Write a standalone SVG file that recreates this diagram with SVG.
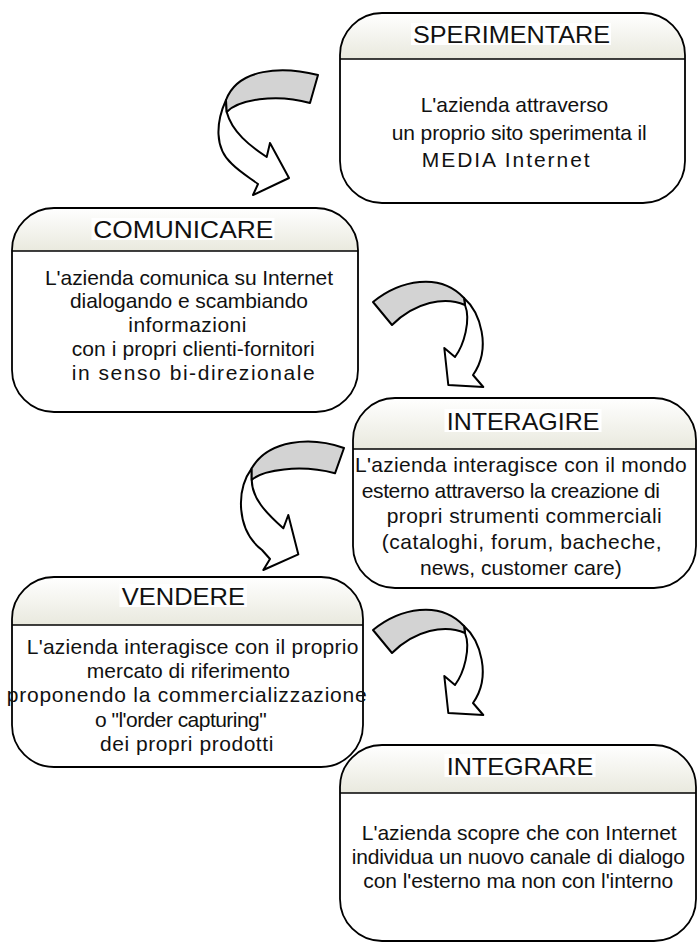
<svg xmlns="http://www.w3.org/2000/svg" width="697" height="943" viewBox="0 0 697 943">
<defs>
<linearGradient id="hg" x1="0" y1="0" x2="0" y2="1">
<stop offset="0" stop-color="#ffffff"/>
<stop offset="1" stop-color="#e9e9de"/>
</linearGradient>
<style>
.bg{fill:#ffffff;stroke:none}
.hd{fill:url(#hg);stroke:none}
.ol{fill:none;stroke:#000;stroke-width:1.8}
.dv{stroke:#000;stroke-width:1.6}
.tb{fill:#ffffff;stroke:none}
.h{font-family:"Liberation Sans",Arial,sans-serif;font-size:24px;fill:#111}
.t{font-family:"Liberation Sans",Arial,sans-serif;font-size:21px;fill:#111}
.ag{fill:#d3d3d3;stroke:#000;stroke-width:2;stroke-linejoin:round}
.aw{fill:#ffffff;stroke:#000;stroke-width:2;stroke-linejoin:round}
</style>
</defs>
<rect width="697" height="943" fill="#ffffff"/>

<g id="connectors">
<g id="arrow1">
<path class="aw" d="M226,100 C216,122 214,148 232,164 C240,172 250,178 258,184 L253,195 L289,178 L270,143 L266.7,157 C250,146 232,132 226.7,112 Z"/>
<path class="ag" d="M318,75 C282,66 238,68 226,100 L226.7,112 C238,100 275,93 310,103 Z"/>
</g>
<g id="arrow2">
<path class="aw" d="M464,298 C480,312 492,348 473,375 L483.3,387 L448.3,385 L444.3,348 L455,357 C464,345 471,320 465,305 Z"/>
<path class="ag" d="M373,302 C400,280 440,272 464,298 L465,305 C445,296 415,302 392,325 Z"/>
</g>
<g id="arrow3">
<path class="aw" d="M251.7,468.3 C236,490 236,530 262,550 L270,559 L263.3,570 L298.3,554.3 L288.3,515 L283.3,528.3 C265,512 252,498 251.7,480 Z"/>
<path class="ag" d="M344,448 C310,436 268,440 251.7,468.3 L251.7,480 C262,470 300,464 335,473.3 Z"/>
</g>
<g id="arrow4" transform="translate(0,328)">
<path class="aw" d="M464,298 C480,312 492,348 473,375 L483.3,387 L448.3,385 L444.3,348 L455,357 C464,345 471,320 465,305 Z"/>
<path class="ag" d="M373,302 C400,280 440,272 464,298 L465,305 C445,296 415,302 392,325 Z"/>
</g>
</g>

<g id="node-sperimentare">
<rect class="bg" x="340" y="13" width="345" height="190" rx="42"/>
<path class="hd" d="M340,59 V55 A42,42 0 0 1 382,13 H643 A42,42 0 0 1 685,55 V59 Z"/>
<line class="dv" x1="340" y1="59" x2="685" y2="59"/>
<rect class="ol" x="340" y="13" width="345" height="190" rx="42"/>
<rect class="tb" x="411" y="23" width="200" height="22"/>
<text class="h" x="413" y="43.3" textLength="197" lengthAdjust="spacingAndGlyphs">SPERIMENTARE</text>
<text class="t" x="420.7" y="111.7" textLength="187.6" lengthAdjust="spacing">L'azienda attraverso</text>
<text class="t" x="391.7" y="139.5" textLength="255" lengthAdjust="spacing">un proprio sito sperimenta il</text>
<text class="t" x="421.7" y="166.7" textLength="168" lengthAdjust="spacing">MEDIA Internet</text>
</g>

<g id="node-comunicare">
<rect class="bg" x="12" y="208" width="346" height="204" rx="42"/>
<path class="hd" d="M12,251 V250 A42,42 0 0 1 54,208 H316 A42,42 0 0 1 358,250 V251 Z"/>
<line class="dv" x1="12" y1="251" x2="358" y2="251"/>
<rect class="ol" x="12" y="208" width="346" height="204" rx="42"/>
<rect class="tb" x="91.5" y="218" width="183" height="22"/>
<text class="h" x="93.3" y="238.3" textLength="180" lengthAdjust="spacingAndGlyphs">COMUNICARE</text>
<text class="t" x="45" y="285" textLength="288" lengthAdjust="spacing">L'azienda comunica su Internet</text>
<text class="t" x="70" y="308" textLength="238" lengthAdjust="spacing">dialogando e scambiando</text>
<text class="t" x="128.3" y="332" textLength="118" lengthAdjust="spacing">informazioni</text>
<text class="t" x="71.7" y="355.5" textLength="243" lengthAdjust="spacing">con i propri clienti-fornitori</text>
<text class="t" x="71.7" y="380" textLength="243" lengthAdjust="spacing">in senso bi-direzionale</text>
</g>

<g id="node-interagire">
<rect class="bg" x="353" y="398" width="343" height="190" rx="42"/>
<path class="hd" d="M353,449 V440 A42,42 0 0 1 395,398 H654 A42,42 0 0 1 696,440 V449 Z"/>
<line class="dv" x1="353" y1="449" x2="696" y2="449"/>
<rect class="ol" x="353" y="398" width="343" height="190" rx="42"/>
<rect class="tb" x="444.5" y="409" width="157" height="23"/>
<text class="h" x="446.7" y="430" textLength="152.7" lengthAdjust="spacingAndGlyphs">INTERAGIRE</text>
<text class="t" x="355" y="471.7" textLength="331.7" lengthAdjust="spacing">L'azienda interagisce con il mondo</text>
<text class="t" x="361.7" y="497.5" textLength="298.3" lengthAdjust="spacing">esterno attraverso la creazione di</text>
<text class="t" x="386.7" y="523" textLength="275" lengthAdjust="spacing">propri strumenti commerciali</text>
<text class="t" x="381.7" y="549" textLength="280" lengthAdjust="spacing">(cataloghi, forum, bacheche,</text>
<text class="t" x="420" y="574.5" textLength="201.7" lengthAdjust="spacing">news, customer care)</text>
</g>

<g id="node-vendere">
<rect class="bg" x="12" y="577" width="351" height="190" rx="42"/>
<path class="hd" d="M12,625 V619 A42,42 0 0 1 54,577 H321 A42,42 0 0 1 363,619 V625 Z"/>
<line class="dv" x1="12" y1="625" x2="363" y2="625"/>
<rect class="ol" x="12" y="577" width="351" height="190" rx="42"/>
<rect class="tb" x="119.5" y="584" width="127.5" height="23"/>
<text class="h" x="121.7" y="605" textLength="123.3" lengthAdjust="spacingAndGlyphs">VENDERE</text>
<text class="t" x="26.7" y="654" textLength="331.7" lengthAdjust="spacing">L'azienda interagisce con il proprio</text>
<text class="t" x="86.7" y="678" textLength="203.3" lengthAdjust="spacing">mercato di riferimento</text>
<text class="t" x="6.7" y="702" textLength="360" lengthAdjust="spacing">proponendo la commercializzazione</text>
<text class="t" x="95" y="726.5" textLength="171.7" lengthAdjust="spacing">o "l'order capturing"</text>
<text class="t" x="100" y="750.5" textLength="173.3" lengthAdjust="spacing">dei propri prodotti</text>
</g>

<g id="node-integrare">
<rect class="bg" x="340" y="745" width="356" height="196" rx="42"/>
<path class="hd" d="M340,793 V787 A42,42 0 0 1 382,745 H654 A42,42 0 0 1 696,787 V793 Z"/>
<line class="dv" x1="340" y1="793" x2="696" y2="793"/>
<rect class="ol" x="340" y="745" width="356" height="196" rx="42"/>
<rect class="tb" x="444.5" y="754" width="151" height="23"/>
<text class="h" x="446.7" y="775" textLength="146.7" lengthAdjust="spacingAndGlyphs">INTEGRARE</text>
<text class="t" x="361.7" y="839.5" textLength="315" lengthAdjust="spacing">L'azienda scopre che con Internet</text>
<text class="t" x="351.7" y="864" textLength="333.3" lengthAdjust="spacing">individua un nuovo canale di dialogo</text>
<text class="t" x="363.3" y="887.5" textLength="310" lengthAdjust="spacing">con l'esterno ma non con l'interno</text>
</g>
</svg>
